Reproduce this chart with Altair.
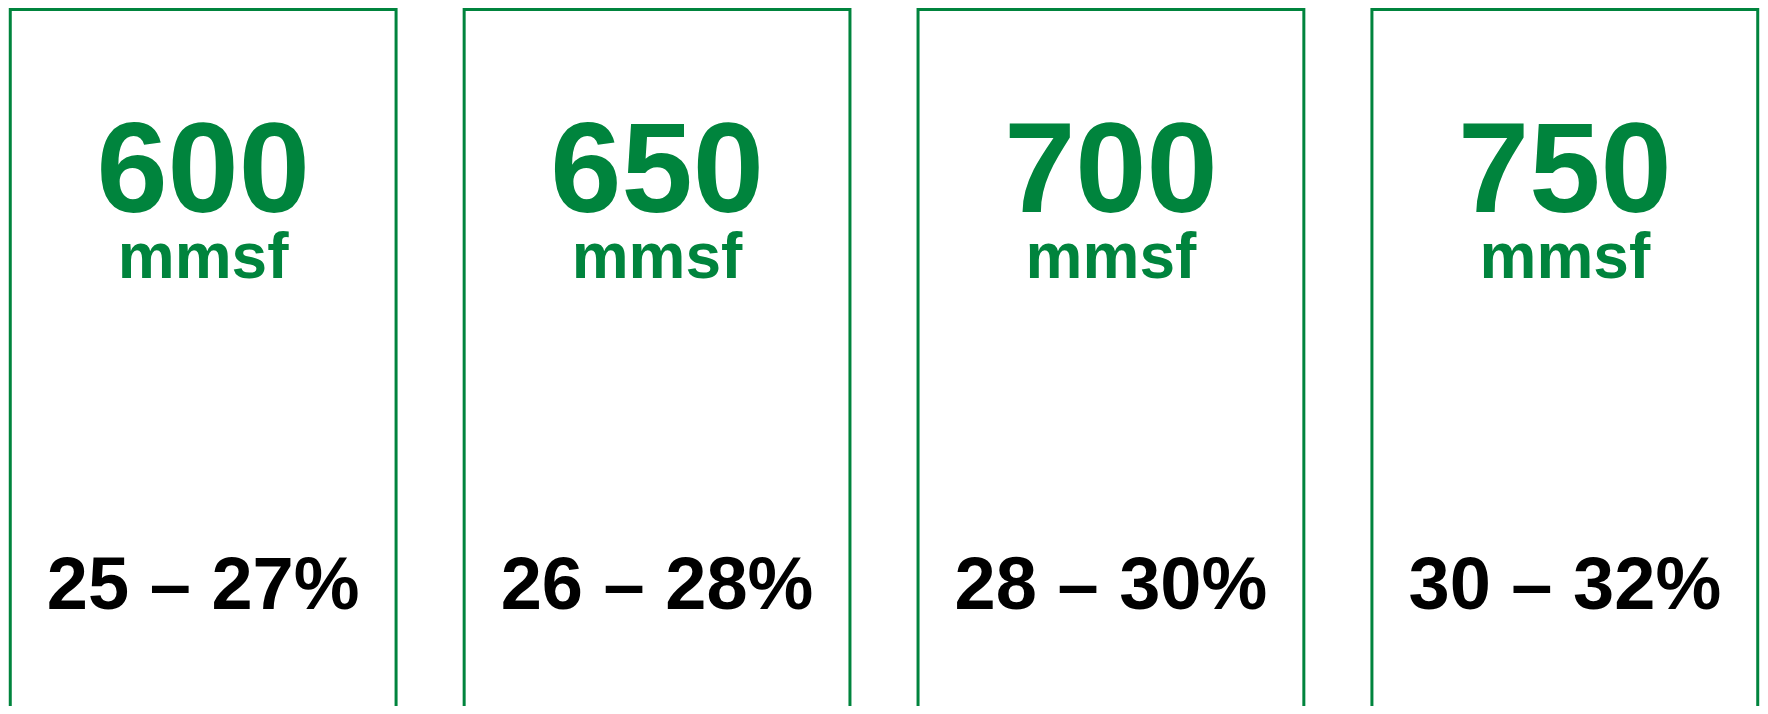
import altair as alt
import pandas as pd

volumes = ["600", "650", "700", "750"]
unit = ["mmsf", "mmsf", "mmsf", "mmsf"]
ranges = ["25 – 27%", "26 – 28%", "28 – 30%", "30 – 32%"]

GREEN = "#00843D"
FONT = "Liberation Sans"

df = pd.DataFrame({"volume": volumes, "unit": unit, "range": ranges})

xs = alt.X("volume:N", sort=volumes,
           scale=alt.Scale(paddingInner=0.15, paddingOuter=0.005),
           axis=None)

box = alt.Chart(df).mark_rect(fill="white", stroke=GREEN, strokeWidth=3).encode(
    x=xs, y=alt.value(1.5), y2=alt.value(720)
)

big = alt.Chart(df).mark_text(font=FONT, fontSize=128, fontWeight="bold",
                              color=GREEN, baseline="alphabetic", align="center").encode(
    x=xs, y=alt.value(204), text="volume:N"
)

small = alt.Chart(df).mark_text(font=FONT, fontSize=64, fontWeight="bold",
                                color=GREEN, baseline="alphabetic", align="center").encode(
    x=xs, y=alt.value(270), text="unit:N"
)

pct = alt.Chart(df).mark_text(font=FONT, fontSize=74, fontWeight="bold",
                              color="black", baseline="alphabetic", align="center").encode(
    x=xs, y=alt.value(601), text="range:N"
)

chart = alt.layer(box, big, small, pct).properties(
    width=1752, height=698,
    autosize=alt.AutoSizeParams(type="fit", contains="padding"),
    padding=0,
).configure_view(stroke=None)

chart.save("out.html", embed_options={"renderer": "svg", "actions": False})
